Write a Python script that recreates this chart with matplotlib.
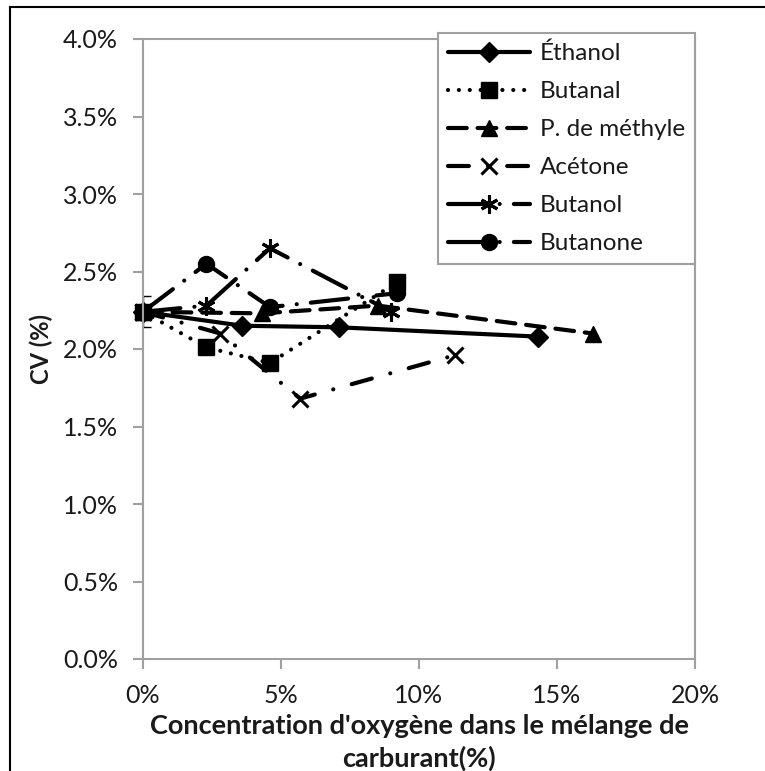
import matplotlib
matplotlib.use("Agg")
import matplotlib.pyplot as plt
from matplotlib.lines import Line2D
from matplotlib.ticker import FuncFormatter, MultipleLocator

plt.rcParams["font.family"] = ["Lato", "DejaVu Sans"]

# ---- Data: oxygen content in blend (%) vs CV (%) ----
labels = ["Éthanol", "Butanal", "P. de méthyle", "Acétone", "Butanol", "Butanone"]

ethanol_x = [0, 3.6, 7.1, 14.3]
ethanol_cv = [2.24, 2.15, 2.14, 2.08]

butanal_x = [0, 2.3, 4.6, 9.2]
butanal_cv = [2.24, 2.01, 1.91, 2.43]

methyl_x = [0, 4.3, 8.5, 16.3]
methyl_cv = [2.24, 2.23, 2.28, 2.10]

acetone_x = [0, 2.8, 5.7, 11.3]
acetone_cv = [2.24, 2.10, 1.68, 1.96]

butanol_x = [0, 2.3, 4.6, 9.0]
butanol_cv = [2.24, 2.28, 2.65, 2.24]

butanone_x = [0, 2.3, 4.6, 9.2]
butanone_cv = [2.24, 2.55, 2.27, 2.36]

# error bar on the pure-fuel reference point
ref_err = 0.1

# ---- Styles ----
LW = 3.0
styles = [
    dict(ls="-", marker="D", ms=10),
    dict(ls=(0, (0.01, 2.6)), marker="s", ms=11.5),
    dict(ls=(0, (4.5, 2.6)), marker="^", ms=11.5),
    dict(ls=(0, (5.0, 4.6, 0.01, 4.6)), marker="x", ms=11, mew=2.2),
    dict(ls=(0, (9.0, 3.4, 0.01, 3.4)), marker=(6, 2, 0), ms=13, mew=2.2),
    dict(ls=(0, (9.0, 3.4, 0.01, 3.4)), marker="o", ms=11.5),
]
series = [
    (ethanol_x, ethanol_cv),
    (butanal_x, butanal_cv),
    (methyl_x, methyl_cv),
    (acetone_x, acetone_cv),
    (butanol_x, butanol_cv),
    (butanone_x, butanone_cv),
]

fig = plt.figure(figsize=(7.65, 7.71), dpi=100)
ax = fig.add_axes([143 / 765, 1 - 659 / 771, 552 / 765, 620 / 771])

for (x, y), st, lab in zip(series, styles, labels):
    ax.plot(x, y, color="black", lw=LW, dash_capstyle="round",
            solid_capstyle="round", markeredgecolor="black",
            markerfacecolor="black", label=lab, clip_on=False, **st)

eb = ax.errorbar([ethanol_x[0]], [ethanol_cv[0]], yerr=ref_err, fmt="none",
                 ecolor="black", elinewidth=1, capsize=6, capthick=1)
for art in eb.lines[1] + eb.lines[2]:
    art.set_clip_on(True)
    art.set_clip_box(ax.bbox)

ax.set_xlim(0, 20)
ax.set_ylim(0, 4)
ax.xaxis.set_major_locator(MultipleLocator(5))
ax.yaxis.set_major_locator(MultipleLocator(0.5))
ax.xaxis.set_major_formatter(FuncFormatter(lambda v, p: f"{v:.0f}%"))
ax.yaxis.set_major_formatter(FuncFormatter(lambda v, p: f"{v:.1f}%"))

grey = "#a0a0a0"
for s in ax.spines.values():
    s.set_color(grey)
    s.set_linewidth(1.5)
ax.tick_params(axis="both", colors=grey, width=1.5, length=7,
               labelcolor="#1a1a1a", labelsize=18)
ax.tick_params(axis="x", pad=11)
ax.tick_params(axis="y", pad=11)

ax.set_ylabel("CV (%)", fontsize=17, fontweight="bold", color="#1a1a1a",
              labelpad=7)
ax.set_xlabel("Concentration d'oxygène dans le mélange de\ncarburant(%)",
              fontsize=19.5, fontweight="bold", color="#1a1a1a",
              labelpad=5, linespacing=1.38)

leg = ax.legend(loc="upper right", bbox_to_anchor=(1.0, 1.0097),
                fontsize=17.5, numpoints=1, handlelength=3.4,
                labelspacing=0.70, borderpad=0.4, handletextpad=0.4,
                fancybox=False, framealpha=1, borderaxespad=0)
leg.get_frame().set_edgecolor(grey)
leg.get_frame().set_linewidth(1.5)
for t in leg.get_texts():
    t.set_color("#1a1a1a")

# outer frame (top and left edges)
fig.add_artist(Line2D([10 / 765, 1], [1 - 7 / 771, 1 - 7 / 771],
                      color="black", lw=1.5))
fig.add_artist(Line2D([10 / 765, 10 / 765], [0, 1 - 7 / 771],
                      color="black", lw=1.5))

fig.savefig("out.png", dpi=100)
